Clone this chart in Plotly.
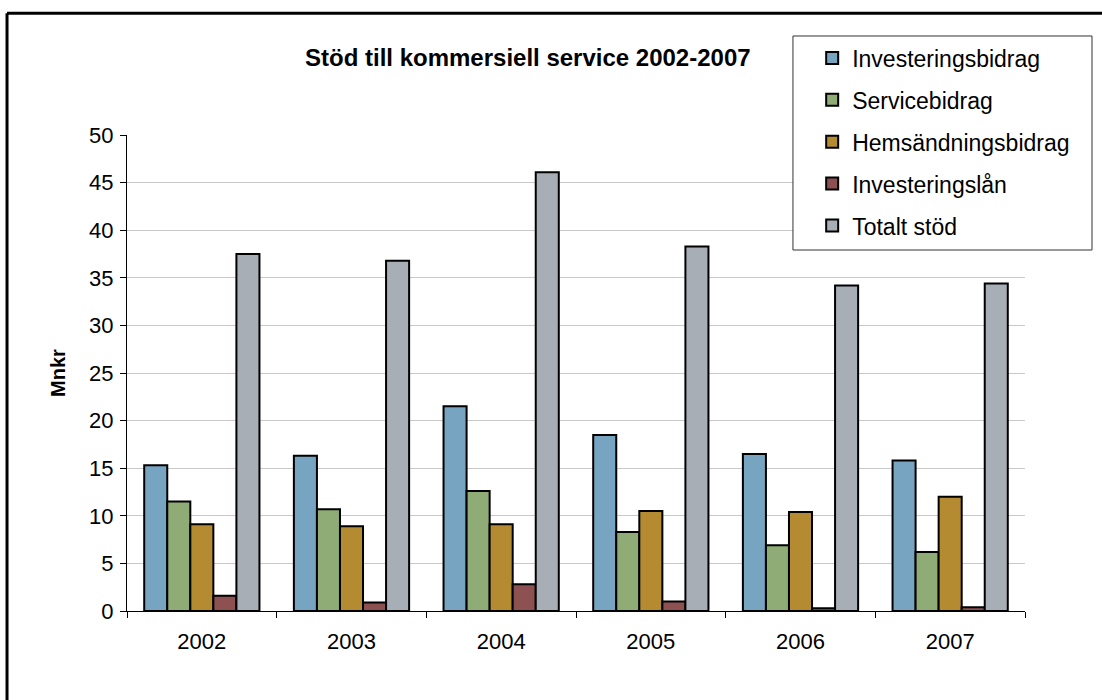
import plotly.graph_objects as go

years = ["2002", "2003", "2004", "2005", "2006", "2007"]

investeringsbidrag = [15.3, 16.3, 21.5, 18.5, 16.5, 15.8]
servicebidrag = [11.5, 10.7, 12.6, 8.3, 6.9, 6.2]
hemsandningsbidrag = [9.1, 8.9, 9.1, 10.5, 10.4, 12.0]
investeringslan = [1.6, 0.9, 2.8, 1.0, 0.3, 0.4]
totalt_stod = [37.5, 36.8, 46.1, 38.3, 34.2, 34.4]

series = [
    ("Investeringsbidrag", investeringsbidrag, "#77A5C1"),
    ("Servicebidrag", servicebidrag, "#8FAC76"),
    ("Hemsändningsbidrag", hemsandningsbidrag, "#B58B31"),
    ("Investeringslån", investeringslan, "#8E5152"),
    ("Totalt stöd", totalt_stod, "#A7AEB6"),
]

fig = go.Figure()
for name, vals, color in series:
    fig.add_trace(go.Bar(
        x=years, y=vals, name=name, legendgroup=name,
        marker=dict(color=color, line=dict(color="black", width=2)),
    ))

font = "Arial, Liberation Sans, sans-serif"

fig.update_layout(
    width=1102, height=700,
    margin=dict(l=127, r=77, t=135, b=89),
    paper_bgcolor="white", plot_bgcolor="white",
    barmode="group", bargap=0.23, bargroupgap=0,
    font=dict(family=font, color="black", size=22),
    showlegend=True,
    legend=dict(
        x=0.763, y=1.207, xanchor="left", yanchor="top",
        bgcolor="rgba(0,0,0,0)", borderwidth=0,
        font=dict(size=23, family=font),
        tracegroupgap=9,
    ),
    annotations=[dict(
        text="<b>Stöd till kommersiell service 2002-2007</b>",
        xref="paper", yref="paper", x=0.446, y=1.162,
        xanchor="center", yanchor="middle", showarrow=False,
        font=dict(size=24, family=font, color="black"),
    )],
    shapes=[
        # legend frame
        dict(type="rect", xref="paper", yref="paper", layer="above",
             x0=0.7416, x1=1.0746, y0=0.7584, y1=1.208,
             fillcolor="white", line=dict(color="#333333", width=1)),
        # chart frame (top and left edges visible)
        dict(type="line", xref="paper", yref="paper",
             x0=-0.1336, x1=1.2, y0=1.256, y1=1.256,
             line=dict(color="black", width=3)),
        dict(type="line", xref="paper", yref="paper",
             x0=-0.1336, x1=-0.1336, y0=1.256, y1=-0.3,
             line=dict(color="black", width=3)),
    ],
)

fig.update_xaxes(
    type="category", tickson="boundaries",
    showline=True, linecolor="black", linewidth=1,
    ticks="outside", ticklen=6, tickcolor="black",
    showgrid=False, tickfont=dict(size=22, family=font),
    ticklabelstandoff=11,
)
fig.update_yaxes(
    range=[0, 50], dtick=5, tick0=0,
    showline=True, linecolor="black", linewidth=1,
    ticks="outside", ticklen=6, tickcolor="black",
    showgrid=True, gridcolor="#C8C8C8", gridwidth=1,
    zeroline=False,
    tickfont=dict(size=22, family=font),
    ticklabelstandoff=2,
    title=dict(text="<b>Mnkr</b>", font=dict(size=20, family=font), standoff=18),
)

fig.write_html("out.html")
